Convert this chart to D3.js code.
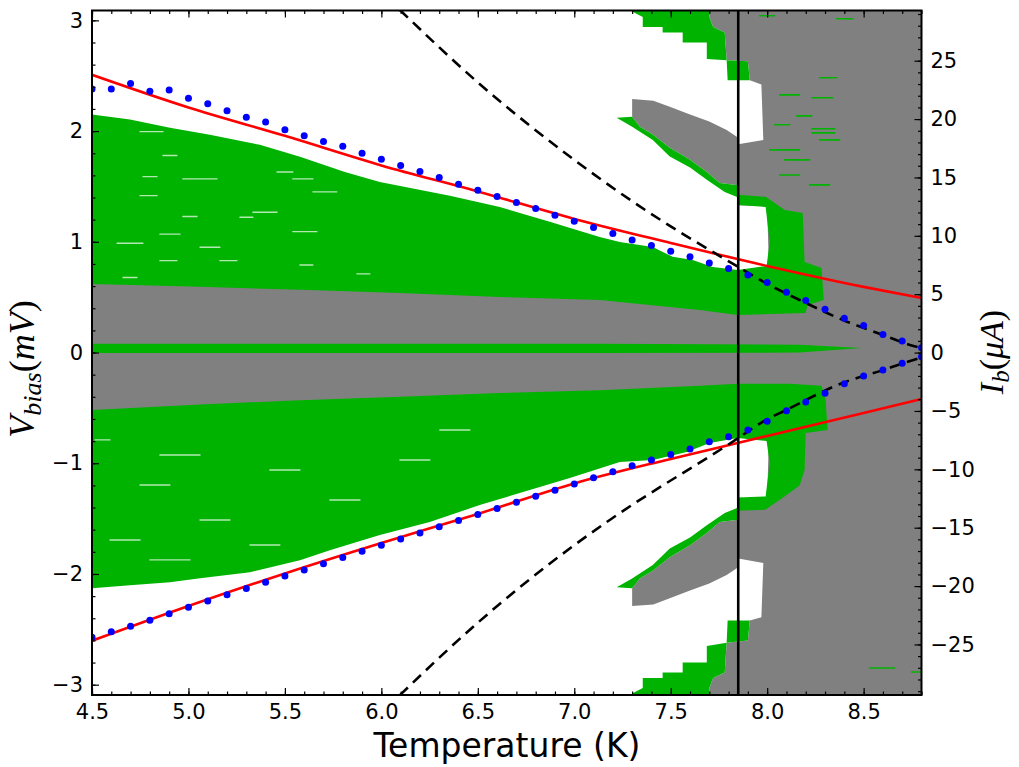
<!DOCTYPE html>
<html>
<head>
<meta charset="utf-8">
<script src="https://cdn.jsdelivr.net/npm/d3@7"></script>
<style>
  body { margin: 0; background: #fff; }
  svg text { font-family: "DejaVu Sans", sans-serif; fill: #000; }
  .math { font-family: "Liberation Serif", "DejaVu Serif", serif; }
</style>
</head>
<body>
<div id="chart"></div>
<script>
// ---- data ----
// temperature (K) of the blue points
const dotTemps = [4.5, 4.6, 4.7, 4.8, 4.9, 5.0, 5.1, 5.2, 5.3, 5.4, 5.5, 5.6, 5.7, 5.8, 5.9,
  6.0, 6.1, 6.2, 6.3, 6.4, 6.5, 6.6, 6.7, 6.8, 6.9, 7.0, 7.1, 7.2, 7.3, 7.4, 7.5, 7.6,
  7.7, 7.8, 7.9, 8.0, 8.1, 8.2, 8.3, 8.4, 8.5, 8.6, 8.7, 8.8];
// switching voltage (mV), positive and negative branch
const dotsUpper = [2.379, 2.379, 2.429, 2.360, 2.370, 2.297, 2.246, 2.183, 2.126, 2.083, 2.011,
  1.957, 1.905, 1.864, 1.800, 1.746, 1.69, 1.635, 1.58, 1.52, 1.465, 1.41, 1.355, 1.30, 1.24,
  1.185, 1.13, 1.074, 1.017, 0.966, 0.915, 0.864, 0.809, 0.758, 0.701, 0.632, 0.545, 0.469,
  0.391, 0.310, 0.243, 0.162, 0.105, 0.044];
const dotsLower = [-2.572, -2.521, -2.473, -2.418, -2.359, -2.301, -2.244, -2.188, -2.131,
  -2.075, -2.019, -1.963, -1.907, -1.851, -1.795, -1.740, -1.684, -1.629, -1.573, -1.518,
  -1.463, -1.408, -1.353, -1.298, -1.243, -1.188, -1.132, -1.076, -1.022, -0.970, -0.922,
  -0.871, -0.805, -0.760, -0.699, -0.621, -0.525, -0.446, -0.368, -0.281, -0.211, -0.157,
  -0.097, -0.037];

// red fit curves
const fitTemps = [4.5, 5.0, 5.5, 6.0, 6.5, 7.0, 7.5, 8.0, 8.5, 8.8];
const fitUpper = [2.508, 2.213, 1.957, 1.690, 1.455, 1.207, 0.990, 0.782, 0.593, 0.493];
const fitLower = [-2.603, -2.289, -1.995, -1.720, -1.458, -1.182, -0.961, -0.753, -0.546, -0.420];

// black dashed curves
const dashUpperT = [6.096, 6.5, 7.0, 7.303, 7.847, 7.995, 8.203, 8.393, 8.6, 8.74, 8.8];
const dashUpperV = [3.094, 2.44, 1.74, 1.363, 0.776, 0.626, 0.445, 0.294, 0.159, 0.069, 0.04];
const dashLowerT = [6.096, 6.5, 7.0, 7.184, 7.847, 7.978, 8.1, 8.39, 8.6, 8.704, 8.8];
const dashLowerV = [-3.094, -2.44, -1.74, -1.512, -0.776, -0.624, -0.518, -0.275, -0.159, -0.097, -0.045];

// vertical marker (K)
const tcLine = 7.85;

// map regions, [T, V] outlines (background is the grey state)
const whiteUpper = [[4.5, 3.15], [7.70, 3.15], [7.70, 3.03], [7.72, 2.94], [7.78, 2.89], [7.79, 2.64],
  [7.90, 2.63], [7.91, 2.46], [7.97, 2.42], [7.98, 1.92], [7.85, 1.88], [7.85, 1.33], [8.0, 1.32],
  [8.01, 0.70], [4.5, 0.70]];
const whiteLower = [[4.5, -3.15], [7.70, -3.15], [7.70, -3.03], [7.72, -2.94], [7.78, -2.89], [7.79, -2.62],
  [7.90, -2.60], [7.91, -2.42], [7.97, -2.39], [7.98, -1.90], [7.85, -1.86], [7.85, -1.33], [8.0, -1.32],
  [8.01, -0.70], [4.5, -0.70]];
const greenBandUpper = [[4.5, 2.15], [4.697, 2.104], [4.904, 2.029], [5.111, 1.966], [5.37, 1.876],
  [5.578, 1.768], [5.811, 1.631], [5.992, 1.541], [6.355, 1.415], [6.614, 1.315], [6.873, 1.18],
  [7.132, 1.044], [7.236, 0.999], [7.407, 0.954], [7.51, 0.864], [7.614, 0.836], [7.718, 0.773],
  [7.847, 0.746], [7.997, 0.782], [8.013, 1.0], [7.992, 1.315], [7.847, 1.333], [7.847, 1.424],
  [7.992, 1.406], [8.091, 1.288], [8.184, 1.261], [8.194, 0.818], [8.282, 0.764], [8.293, 0.475],
  [8.21, 0.43], [8.199, 0.357], [7.847, 0.339], [7.65, 0.384], [7.391, 0.43], [7.132, 0.475],
  [6.614, 0.502], [6.096, 0.538], [5.578, 0.566], [5.06, 0.593], [4.5, 0.62]];
const greenBandLower = [[4.5, -0.52], [5.06, -0.47], [5.578, -0.43], [6.096, -0.40], [6.614, -0.365],
  [7.132, -0.34], [7.65, -0.30], [7.847, -0.283], [8.117, -0.283], [8.282, -0.30], [8.303, -0.43],
  [8.313, -0.70], [8.199, -0.727], [8.194, -1.06], [8.168, -1.20], [8.09, -1.30], [7.99, -1.42],
  [7.847, -1.43], [7.847, -1.31], [7.992, -1.30], [8.013, -1.0], [7.997, -0.80], [7.847, -0.771],
  [7.702, -0.817], [7.583, -0.898], [7.407, -0.97], [7.236, -0.988], [6.977, -1.133], [6.769, -1.241],
  [6.51, -1.377], [6.251, -1.531], [5.992, -1.648], [5.733, -1.785], [5.578, -1.875], [5.319, -1.984],
  [5.06, -2.038], [4.904, -2.074], [4.697, -2.101], [4.5, -2.128]];
const greenZero = [[4.5, 0.08], [7.132, 0.08], [8.168, 0.07], [8.49, 0.04], [8.168, 0.0],
  [7.132, -0.005], [4.5, -0.005]];
const greenTopFringe = [[7.30, 3.15], [7.70, 3.15], [7.70, 3.03], [7.72, 2.94], [7.78, 2.89], [7.79, 2.64],
  [7.90, 2.63], [7.91, 2.46], [7.795, 2.46], [7.79, 2.64], [7.687, 2.65], [7.687, 2.80], [7.562, 2.80],
  [7.562, 2.89], [7.458, 2.89], [7.458, 2.94], [7.355, 2.94], [7.355, 3.03], [7.30, 3.08]];
const greenBottomFringe = [[7.30, -3.15], [7.70, -3.15], [7.70, -3.03], [7.72, -2.94], [7.78, -2.89],
  [7.79, -2.62], [7.90, -2.60], [7.91, -2.42], [7.795, -2.42], [7.79, -2.62], [7.687, -2.65],
  [7.687, -2.80], [7.562, -2.80], [7.562, -2.89], [7.458, -2.89], [7.458, -2.94], [7.355, -2.94],
  [7.355, -3.03], [7.30, -3.08]];
const greyWedgeUpper = [[7.30, 2.29], [7.41, 2.275], [7.495, 2.22], [7.60, 2.15], [7.70, 2.086],
  [7.79, 2.01], [7.85, 1.94], [7.85, 1.51], [7.754, 1.53], [7.687, 1.63], [7.60, 1.74], [7.495, 1.85],
  [7.407, 1.97], [7.34, 2.04], [7.30, 2.13]];
const greyWedgeLower = [[7.30, -2.29], [7.41, -2.275], [7.495, -2.22], [7.60, -2.15], [7.70, -2.086],
  [7.79, -2.01], [7.85, -1.94], [7.85, -1.51], [7.754, -1.53], [7.687, -1.63], [7.60, -1.74],
  [7.495, -1.85], [7.407, -1.97], [7.34, -2.04], [7.30, -2.13]];
const greenStripUpper = [[7.30, 2.13], [7.34, 2.04], [7.407, 1.97], [7.495, 1.85], [7.60, 1.74],
  [7.687, 1.63], [7.754, 1.53], [7.85, 1.51], [7.85, 1.40], [7.78, 1.45], [7.687, 1.56], [7.60, 1.67],
  [7.495, 1.77], [7.407, 1.92], [7.30, 2.04], [7.22, 2.12]];
const greenStripLower = [[7.30, -2.13], [7.34, -2.04], [7.407, -1.97], [7.495, -1.85], [7.60, -1.74],
  [7.687, -1.63], [7.754, -1.53], [7.85, -1.51], [7.85, -1.40], [7.78, -1.45], [7.687, -1.56],
  [7.60, -1.67], [7.495, -1.77], [7.407, -1.92], [7.30, -2.04], [7.22, -2.12]];

// thin streaks [T start, T end, V]
const greenStreaks = [[8.36, 8.443, 3.014], [7.961, 8.039, 3.041], [8.272, 8.36, 2.481],
  [8.231, 8.339, 2.301], [8.153, 8.231, 2.137], [8.231, 8.35, 2.021], [8.231, 8.35, 1.984],
  [8.065, 8.168, 2.327], [8.039, 8.117, 2.057], [8.272, 8.376, 1.921], [8.013, 8.168, 1.83],
  [8.091, 8.22, 1.74], [8.065, 8.168, 1.604], [8.22, 8.324, 1.514], [8.531, 8.661, -2.849],
  [8.749, 8.795, -2.885]];
const whiteStreaks = [[4.749, 4.868, 1.995], [4.868, 4.94, 1.779], [4.764, 4.837, 1.589],
  [4.971, 5.148, 1.568], [4.749, 4.837, 1.417], [5.459, 5.541, 1.631], [5.541, 5.645, 1.568],
  [5.645, 5.769, 1.451], [4.971, 5.044, 1.228], [5.267, 5.334, 1.222], [5.334, 5.459, 1.267],
  [4.852, 4.956, 1.069], [4.63, 4.764, 0.987], [5.06, 5.163, 0.951], [5.541, 5.666, 1.092],
  [4.852, 4.94, 0.83], [5.163, 5.251, 0.83], [5.578, 5.645, 0.791], [5.873, 5.94, 0.71],
  [4.661, 4.733, 0.677], [4.516, 4.593, -0.789], [4.852, 5.06, -0.925], [4.749, 4.904, -1.196],
  [5.06, 5.215, -1.512], [5.422, 5.578, -1.061], [5.733, 5.889, -1.332], [4.593, 4.749, -1.693],
  [5.319, 5.474, -1.738], [6.096, 6.251, -0.97], [6.303, 6.459, -0.70], [4.80, 5.008, -1.873]];

// tick values
const xTicks = [4.5, 5.0, 5.5, 6.0, 6.5, 7.0, 7.5, 8.0, 8.5];
const vTicks = [-3, -2, -1, 0, 1, 2, 3];
const ibTicks = [-25, -20, -15, -10, -5, 0, 5, 10, 15, 20, 25];

const GREY = "#808080", GREEN = "#00b300";

class PhaseMap {
    constructor(opts) {
        this.element = opts.element;
        this.draw();
    }

    draw() {
        this.width = 1019;
        this.height = 767;
        this.box = { left: 92, right: 921.5, top: 10.5, bottom: 695 };
        const svg = this.element.append("svg")
            .attr("width", this.width)
            .attr("height", this.height);
        this.svg = svg;

        this.x = d3.scaleLinear().domain([4.5, 8.8]).range([this.box.left, this.box.right]);
        this.y = d3.scaleLinear().domain([-3.093, 3.089]).range([this.box.bottom, this.box.top]);
        this.yR = d3.scaleLinear().domain([-29.33, 29.30]).range([this.box.bottom, this.box.top]);

        svg.append("clipPath").attr("id", "plot-clip")
            .append("rect")
            .attr("x", this.box.left).attr("y", this.box.top)
            .attr("width", this.box.right - this.box.left)
            .attr("height", this.box.bottom - this.box.top);

        this.plot = svg.append("g").attr("clip-path", "url(#plot-clip)");
        this.addMap();
        this.addStreaks();
        this.addCurves();
        this.addAxes();
        this.addLabels();
    }

    addMap() {
        const area = d3.line()
            .x(d => this.x(d[0]))
            .y(d => this.y(d[1]))
            .curve(d3.curveLinearClosed);
        // grey everywhere, then the other states on top
        this.plot.append("rect")
            .attr("x", this.x(4.5)).attr("y", this.y(3.2))
            .attr("width", this.x(8.8) - this.x(4.5))
            .attr("height", this.y(-3.2) - this.y(3.2))
            .attr("fill", GREY);
        const layers = [
            [whiteUpper, "#fff"], [whiteLower, "#fff"],
            [greenBandUpper, GREEN], [greenBandLower, GREEN], [greenZero, GREEN],
            [greenTopFringe, GREEN], [greenBottomFringe, GREEN],
            [greyWedgeUpper, GREY], [greyWedgeLower, GREY],
            [greenStripUpper, GREEN], [greenStripLower, GREEN]
        ];
        this.plot.append("g").selectAll("path")
            .data(layers)
            .enter()
            .append("path")
            .attr("d", d => area(d[0]))
            .attr("fill", d => d[1]);
    }

    addStreaks() {
        const g = this.plot.append("g").attr("stroke-linecap", "round");
        g.selectAll(".gs")
            .data(greenStreaks)
            .enter()
            .append("line")
            .attr("x1", d => this.x(d[0])).attr("x2", d => this.x(d[1]))
            .attr("y1", d => this.y(d[2])).attr("y2", d => this.y(d[2]))
            .attr("stroke", GREEN).attr("stroke-width", 1.6);
        g.selectAll(".ws")
            .data(whiteStreaks)
            .enter()
            .append("line")
            .attr("x1", d => this.x(d[0])).attr("x2", d => this.x(d[1]))
            .attr("y1", d => this.y(d[2])).attr("y2", d => this.y(d[2]))
            .attr("stroke", "#fff").attr("stroke-opacity", 0.7).attr("stroke-width", 1.4);
    }

    addCurves() {
        const line = d3.line()
            .x(d => this.x(d[0]))
            .y(d => this.y(d[1]));
        const smooth = d3.line()
            .x(d => this.x(d[0]))
            .y(d => this.y(d[1]))
            .curve(d3.curveMonotoneX);

        [fitUpper, fitLower].forEach(vals => {
            this.plot.append("path")
                .attr("d", smooth(fitTemps.map((t, i) => [t, vals[i]])))
                .attr("fill", "none").attr("stroke", "#ff0000").attr("stroke-width", 2.6);
        });
        [[dashUpperT, dashUpperV], [dashLowerT, dashLowerV]].forEach(([ts, vs]) => {
            this.plot.append("path")
                .attr("d", smooth(ts.map((t, i) => [t, vs[i]])))
                .attr("fill", "none").attr("stroke", "#000").attr("stroke-width", 2.6)
                .attr("stroke-dasharray", "11,7");
        });
        this.plot.append("path")
            .attr("d", line([[tcLine, -3.2], [tcLine, 3.2]]))
            .attr("stroke", "#000").attr("stroke-width", 2.6);

        [dotsUpper, dotsLower].forEach(vals => {
            this.plot.append("g").selectAll("circle")
                .data(dotTemps.map((t, i) => [t, vals[i]]))
                .enter()
                .append("circle")
                .attr("cx", d => this.x(d[0]))
                .attr("cy", d => this.y(d[1]))
                .attr("r", 3.5)
                .attr("fill", "#0000ff");
        });
    }

    addAxes() {
        const b = this.box;
        const fmt = d3.format("d");
        const minorT = d3.range(45, 89).map(v => v / 10);
        const minorV = d3.range(-15, 16).map(v => v / 5);
        const minorI = d3.range(-29, 30);
        const axes = this.svg.append("g").attr("font-size", 21);

        const put = (axis, tr) => {
            const g = axes.append("g").attr("transform", tr).call(axis);
            g.select(".domain").remove();
            g.selectAll("line").attr("stroke", "#000").attr("stroke-width", 1.2);
            g.selectAll("text").attr("font-family", "DejaVu Sans").attr("font-size", 21);
            return g;
        };
        put(d3.axisBottom(this.x).tickValues(minorT).tickSize(-3.5).tickFormat(""), `translate(0,${b.bottom})`);
        put(d3.axisTop(this.x).tickValues(minorT).tickSize(-3.5).tickFormat(""), `translate(0,${b.top})`);
        put(d3.axisBottom(this.x).tickValues(xTicks).tickSize(-7).tickPadding(9).tickFormat(d3.format(".1f")),
            `translate(0,${b.bottom})`);
        put(d3.axisTop(this.x).tickValues(xTicks).tickSize(-7).tickFormat(""), `translate(0,${b.top})`);

        put(d3.axisLeft(this.y).tickValues(minorV).tickSize(-3.5).tickFormat(""), `translate(${b.left},0)`);
        put(d3.axisLeft(this.y).tickValues(vTicks).tickSize(-7).tickPadding(9).tickFormat(fmt),
            `translate(${b.left},0)`);

        put(d3.axisRight(this.yR).tickValues(minorI).tickSize(-3.5).tickFormat(""), `translate(${b.right},0)`);
        put(d3.axisRight(this.yR).tickValues(ibTicks).tickSize(-7).tickPadding(9).tickFormat(fmt),
            `translate(${b.right},0)`);

        axes.append("rect")
            .attr("x", b.left).attr("y", b.top)
            .attr("width", b.right - b.left).attr("height", b.bottom - b.top)
            .attr("fill", "none").attr("stroke", "#000").attr("stroke-width", 2);
    }

    addLabels() {
        this.svg.append("text")
            .attr("x", 507).attr("y", 757)
            .attr("text-anchor", "middle")
            .attr("font-size", 33)
            .text("Temperature (K)");

        // left: V_bias(mV)
        const left = this.svg.append("text")
            .attr("class", "math")
            .attr("transform", "translate(34,369) rotate(-90)")
            .attr("text-anchor", "middle")
            .attr("font-size", 36);
        left.append("tspan").attr("font-style", "italic").text("V");
        left.append("tspan").attr("font-style", "italic").attr("font-size", 26).attr("dy", 7).text("bias");
        left.append("tspan").attr("dy", -7).text("(");
        left.append("tspan").attr("font-style", "italic").text("mV");
        left.append("tspan").text(")");

        // right: I_b(uA)
        const right = this.svg.append("text")
            .attr("class", "math")
            .attr("transform", "translate(1003,352) rotate(-90)")
            .attr("text-anchor", "middle")
            .attr("font-size", 34);
        right.append("tspan").attr("font-style", "italic").text("I");
        right.append("tspan").attr("font-style", "italic").attr("font-size", 25).attr("dy", 6).text("b");
        right.append("tspan").attr("dy", -6).text("(");
        right.append("tspan").attr("font-style", "italic").text("\u03bcA");
        right.append("tspan").text(")");
    }
}

const chart = new PhaseMap({ element: d3.select("#chart") });
</script>
</body>
</html>
